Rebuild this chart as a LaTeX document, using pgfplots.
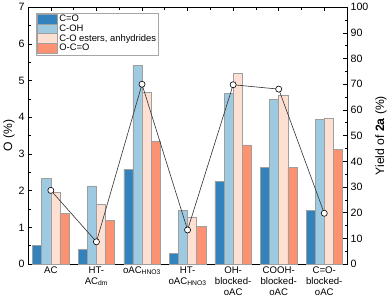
\documentclass[border=0pt]{standalone}
\usepackage{pgfplots}
\pgfplotsset{compat=1.18}
\usepackage{pgfplotstable}
\usepackage{fontspec}
\setmainfont{Liberation Sans}
\definecolor{cCO}{RGB}{49,130,189}
\definecolor{cCOH}{RGB}{158,202,225}
\definecolor{cEst}{RGB}{254,224,210}
\definecolor{cOCO}{RGB}{252,146,114}
\pgfplotstableread{
x CO COH Est OCO Yield
0 0.51 2.34 1.95 1.38 28.7
1 0.40 2.13 1.64 1.20 8.7
2 2.59 5.41 4.67 3.34 70.0
3 0.30 1.47 1.29 1.03 13.3
4 2.25 4.66 5.19 3.25 69.8
5 2.64 4.49 4.61 2.64 68.1
6 1.46 3.94 3.96 3.12 19.8
}\datatable
\begin{document}
\begin{tikzpicture}
\begin{axis}[
  scale only axis, width=314bp, height=253bp,
  xmin=-0.5, xmax=6.5, ymin=0, ymax=7,
  ybar, bar width=0.2,
  xtick={0,...,6},
  minor xtick={0.5,1.5,2.5,3.5,4.5,5.5},
  xtick pos=upper, xticklabel pos=lower,
  xticklabels={AC,{HT-\\AC\textsubscript{dm}},{oAC\textsubscript{HNO3}},{HT-\\oAC\textsubscript{HNO3}},{OH-\\blocked-\\oAC},{COOH-\\blocked-\\oAC},{C=O-\\blocked-\\oAC}},
  xticklabel style={align=center, font=\fontsize{9.5}{10.8}\selectfont, yshift=1bp},
  ytick={0,...,7}, minor y tick num=1,
  ytick pos=left,
  yticklabel style={font=\fontsize{10.5}{11}\selectfont},
  /pgf/number format/assume math mode=true,
  tick align=inside,
  major tick length=4bp, minor tick length=2.5bp,
  every tick/.style={black, line width=0.6pt},
  axis line style={line width=0.8pt},
  ylabel={O (\%)},
  ylabel style={font=\fontsize{12}{13}\selectfont, yshift=-3bp},
  legend style={at={(0.024,0.979)}, anchor=north west, draw=gray!70, line width=0.5pt,
    font=\fontsize{9.3}{10}\selectfont, row sep=-1.5bp, inner sep=1bp, fill=white,
    nodes={inner sep=1.5bp}},
  legend cell align=left,
  legend image code/.code={\draw[#1] (0bp,-5bp) rectangle (20bp,5bp);},
  every axis plot/.append style={draw=gray!75, line width=0.5pt},
]
\addplot[fill=cCO, bar shift=-0.3] table[x=x,y=CO]{\datatable};
\addplot[fill=cCOH, bar shift=-0.1] table[x=x,y=COH]{\datatable};
\addplot[fill=cEst, bar shift=0.1] table[x=x,y=Est]{\datatable};
\addplot[fill=cOCO, bar shift=0.3] table[x=x,y=OCO]{\datatable};
\legend{C=O,C-OH,{C-O esters, anhydrides},O-C=O}
\end{axis}
\begin{axis}[
  scale only axis, width=314bp, height=253bp,
  xmin=-0.5, xmax=6.5, ymin=0, ymax=100,
  hide x axis,
  axis y line*=right,
  ytick={0,10,...,100}, minor y tick num=1,
  yticklabel style={font=\fontsize{10.5}{11}\selectfont},
  /pgf/number format/assume math mode=true,
  tick align=inside,
  major tick length=4bp, minor tick length=2.5bp,
  every tick/.style={black, line width=0.6pt},
  axis line style={line width=0.8pt},
  ylabel={Yield of \textbf{2a} (\%)},
  ylabel style={font=\fontsize{12}{13}\selectfont},
]
\addplot[black!80, line width=0.6pt, mark=*, mark size=3bp, mark options={fill=white, draw=black, line width=0.6pt}] table[x=x,y=Yield]{\datatable};
\end{axis}
\end{tikzpicture}
\end{document}
